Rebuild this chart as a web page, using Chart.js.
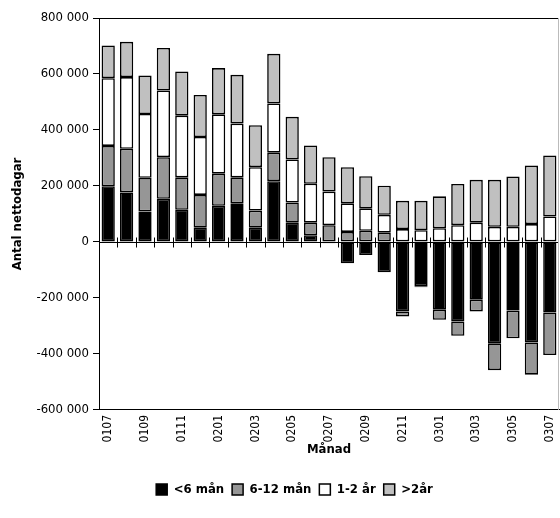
<!DOCTYPE html>
<html lang="sv">
<head>
<meta charset="UTF-8">
<title>Antal nettodagar per månad</title>
<style>
  html, body { margin: 0; padding: 0; background: #fff; }
  #wrap { width: 560px; height: 518px; }
</style>
</head>
<body>
<div id="wrap"><canvas id="chart"></canvas></div>
<script src="https://cdn.jsdelivr.net/npm/chart.js"></script>
<script>
// months (yymm)
const months = ['0107','0108','0109','0110','0111','0112','0201','0202','0203','0204','0205','0206',
                '0207','0208','0209','0210','0211','0212','0301','0302','0303','0304','0305','0306','0307'];

// series
const under6 = [199000, 177000, 109000, 154000, 115000, 51000, 129000, 138000, 51000, 217000, 69000, 24000,
                -5000, -76000, -47000, -108000, -248000, -158000, -242000, -284000, -206000, -362000, -245000, -359000, -252000];
const m6to12 = [144000, 156000, 120000, 149000, 116000, 117000, 115000, 93000, 61000, 102000, 72000, 45000,
                60000, 36000, 40000, 33000, -18000, -4000, -36000, -51000, -42000, -96000, -99000, -115000, -152000];
const y1to2  = [242000, 256000, 228000, 238000, 220000, 207000, 212000, 192000, 155000, 176000, 154000, 139000,
                120000, 102000, 80000, 64000, 46000, 42000, 49000, 60000, 69000, 54000, 54000, 64000, 91000];
const over2  = [117000, 126000, 138000, 152000, 158000, 150000, 165000, 174000, 150000, 177000, 152000, 137000,
                123000, 129000, 115000, 104000, 101000, 105000, 114000, 147000, 153000, 168000, 180000, 209000, 218000];

const yTicks = [800000, 600000, 400000, 200000, 0, -200000, -400000, -600000];

const FONT = '"Liberation Sans Narrow", "DejaVu Sans Condensed", "Arial Narrow", sans-serif';

function fmt(v) {
    return String(v).replace(/\B(?=(\d{3})+(?!\d))/g, ' ');
}

// frame around the plot + zero line with category tick marks
const frame = {
    id: 'frame',
    afterLayout(chart) {
        // legend sits a bit right of centre in the original
        chart.legend.left += 15;
        chart.legend.right += 15;
    },
    afterDatasetsDraw(chart) {
        const ctx = chart.ctx;
        const a = chart.chartArea;
        const x = chart.scales.x, y = chart.scales.y;
        const y0 = Math.round(y.getPixelForValue(0)) + 0.5;
        ctx.save();
        ctx.strokeStyle = '#000';
        ctx.lineWidth = 1;
        ctx.beginPath();
        ctx.moveTo(a.left, y0);
        ctx.lineTo(a.right, y0);
        for (let i = 1; i < months.length; i++) {
            const px = Math.round((x.getPixelForValue(i - 1) + x.getPixelForValue(i)) / 2) + 0.5;
            ctx.moveTo(px, y0 - 5);
            ctx.lineTo(px, y0 + 5);
        }
        ctx.stroke();
        ctx.beginPath();
        ctx.moveTo(a.left, Math.round(a.top) + 0.5);
        ctx.lineTo(a.right, Math.round(a.top) + 0.5);
        ctx.stroke();
        ctx.strokeStyle = '#bbb';
        ctx.beginPath();
        ctx.moveTo(Math.round(a.right) - 0.5, a.top);
        ctx.lineTo(Math.round(a.right) - 0.5, a.bottom);
        ctx.stroke();
        ctx.restore();
    }
};

function ds(label, data, color) {
    return {
        label: label,
        data: data,
        backgroundColor: color,
        borderColor: '#000',
        borderWidth: 1.6,
        borderSkipped: false,
        barPercentage: 0.72,
        categoryPercentage: 1.0
    };
}

new Chart(document.getElementById('chart'), {
    type: 'bar',
    data: {
        labels: months,
        datasets: [
            ds('<6 mån', under6, '#000000'),
            ds('6-12 mån', m6to12, '#969696'),
            ds('1-2 år', y1to2, '#ffffff'),
            ds('>2år', over2, '#c0c0c0')
        ]
    },
    options: {
        responsive: true,
        maintainAspectRatio: false,
        animation: false,
        layout: { padding: { top: 18, right: 1, left: 0, bottom: 12 } },
        plugins: {
            tooltip: { enabled: false },
            legend: {
                position: 'bottom',
                labels: {
                    color: '#000',
                    font: { family: FONT, size: 13, weight: 'bold' },
                    boxWidth: 11,
                    boxHeight: 11,
                    padding: 8,
                    useBorderRadius: false,
                    generateLabels(chart) {
                        return chart.data.datasets.map((d, i) => ({
                            text: d.label,
                            fillStyle: d.backgroundColor,
                            strokeStyle: '#000',
                            lineWidth: 1.5,
                            datasetIndex: i
                        }));
                    }
                }
            }
        },
        scales: {
            x: {
                stacked: true,
                afterFit(scale) {
                    scale.paddingLeft = 0;
                    scale.paddingRight = 0;
                    scale.height -= 8;
                },
                grid: { display: true, drawOnChartArea: false, drawTicks: false, color: '#000' },
                border: { display: true, color: '#000', width: 1 },
                ticks: {
                    autoSkip: false,
                    minRotation: 90,
                    maxRotation: 90,
                    padding: 5,
                    color: '#000',
                    font: { family: FONT, size: 12 },
                    callback: (v, i) => (i % 2 === 0 ? months[i] : '')
                },
                title: {
                    display: true,
                    text: 'Månad',
                    color: '#000',
                    font: { family: FONT, size: 13, weight: 'bold' },
                    padding: { top: 2, bottom: 18 }
                }
            },
            y: {
                stacked: true,
                min: -600000,
                max: 800000,
                afterBuildTicks(scale) {
                    scale.ticks = yTicks.map(v => ({ value: v }));
                },
                afterFit(scale) { scale.width = 99; scale.paddingTop = 0; scale.paddingBottom = 0; },
                grid: { display: true, drawOnChartArea: false, tickLength: 6, color: '#000' },
                border: { display: true, color: '#000', width: 1 },
                ticks: {
                    color: '#000',
                    padding: 4,
                    font: { family: FONT, size: 13 },
                    callback: v => fmt(v)
                },
                title: {
                    display: true,
                    text: 'Antal nettodagar',
                    color: '#000',
                    font: { family: FONT, size: 13, weight: 'bold' },
                    padding: { top: 10, bottom: 0 }
                }
            }
        }
    },
    plugins: [frame]
});
</script>
</body>
</html>
